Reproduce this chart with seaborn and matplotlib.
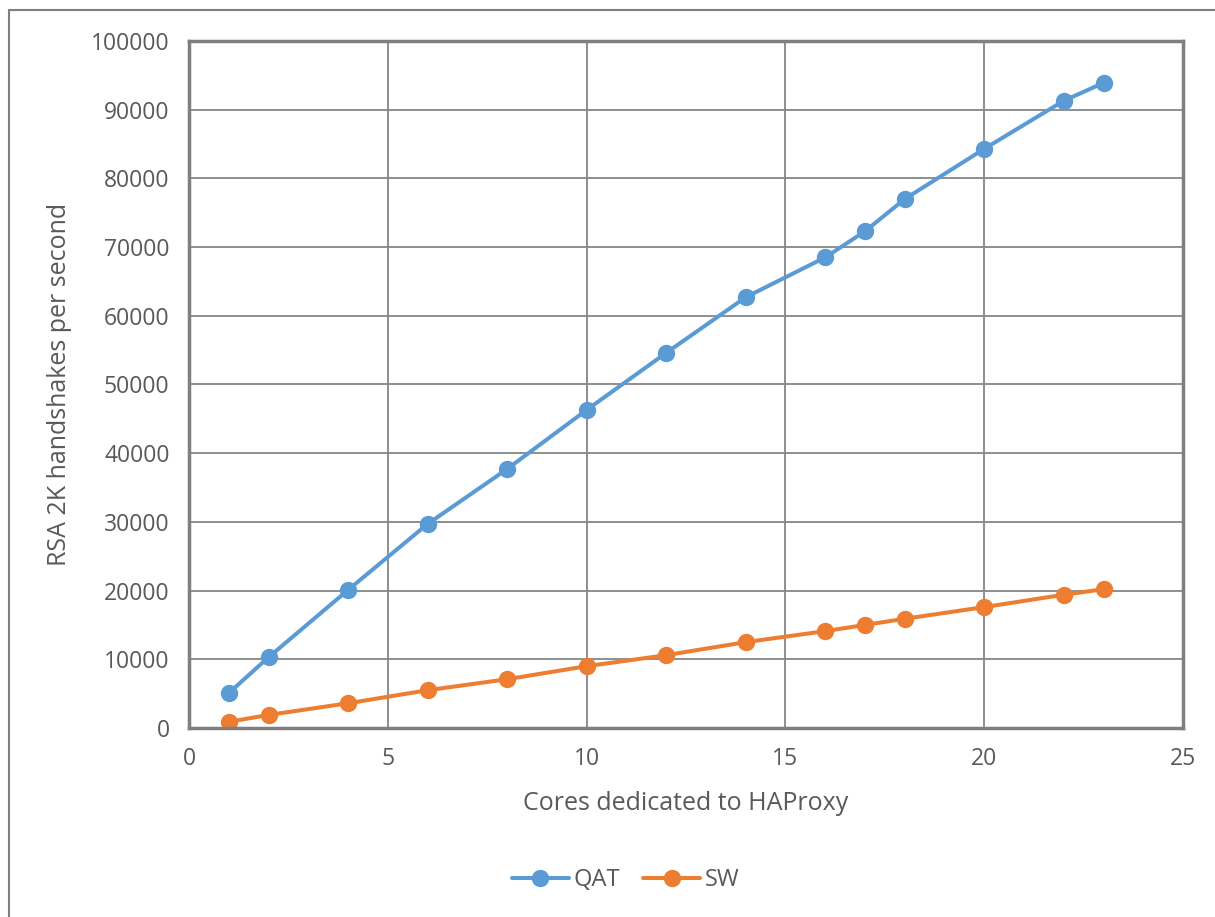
import numpy as np
import pandas as pd
import seaborn as sb
import matplotlib.pyplot as plt
from matplotlib.lines import Line2D

cores = [1, 2, 4, 6, 8, 10, 12, 14, 16, 17, 18, 20, 22, 23]
qat = [5100, 10300, 20100, 29700, 37700, 46300, 54600, 62700, 68500, 72300, 77000, 84300, 91300, 93900]
sw = [900, 1900, 3600, 5500, 7100, 9000, 10600, 12500, 14100, 15000, 15900, 17600, 19400, 20200]
series = ["QAT", "SW"]
colors = {"QAT": "#5B9BD5", "SW": "#ED7D31"}

df = pd.DataFrame({
    "cores": cores * 2,
    "rate": qat + sw,
    "series": ["QAT"] * len(cores) + ["SW"] * len(cores),
})

sb.set_style("white")
plt.rcParams['font.family'] = ['Open Sans', 'DejaVu Sans']
text_col = "#595959"

fig = plt.figure(figsize=(12.15, 9.17), dpi=100)
ax = fig.add_axes([0.1556, 0.2061, 0.8181, 0.7492])

sb.lineplot(data=df, x="cores", y="rate", hue="series", hue_order=series,
            palette=colors, marker="o", markersize=12.5, markeredgewidth=0,
            linewidth=2.9, ax=ax, legend=False)

ax.set_xlim(0, 25)
ax.set_ylim(0, 100000)
ax.set_xticks(np.arange(0, 26, 5))
ax.set_yticks(np.arange(0, 100001, 10000))
ax.grid(True, color="#868686", linewidth=1.3)
ax.set_axisbelow(True)
for s in ax.spines.values():
    s.set_color("#7f7f7f")
    s.set_linewidth(2.5)
ax.tick_params(axis="both", length=0, labelsize=16.5, labelcolor=text_col, pad=14)
ax.set_xlabel("Cores dedicated to HAProxy", fontsize=18, color=text_col, labelpad=14)
ax.set_ylabel("RSA 2K handshakes per second", fontsize=18, color=text_col, labelpad=14)

handles = [Line2D([0], [0], color=colors[s], marker="o", markersize=12.5,
                  markeredgewidth=0, linewidth=2.9) for s in series]
leg = fig.legend(handles, series, loc="center", bbox_to_anchor=(0.515, 0.04), ncol=2,
                 frameon=False, fontsize=17, handlelength=2.4, columnspacing=1.0,
                 handletextpad=0.2)
for t in leg.get_texts():
    t.set_color(text_col)

# chart frame (left and top edges visible in the page)
fig.add_artist(Line2D([0.007, 0.007], [0, 0.989], color="#7f7f7f", linewidth=1.5,
                      transform=fig.transFigure))
fig.add_artist(Line2D([0.007, 1], [0.989, 0.989], color="#7f7f7f", linewidth=1.5,
                      transform=fig.transFigure))

fig.savefig("out.png", dpi=100)
